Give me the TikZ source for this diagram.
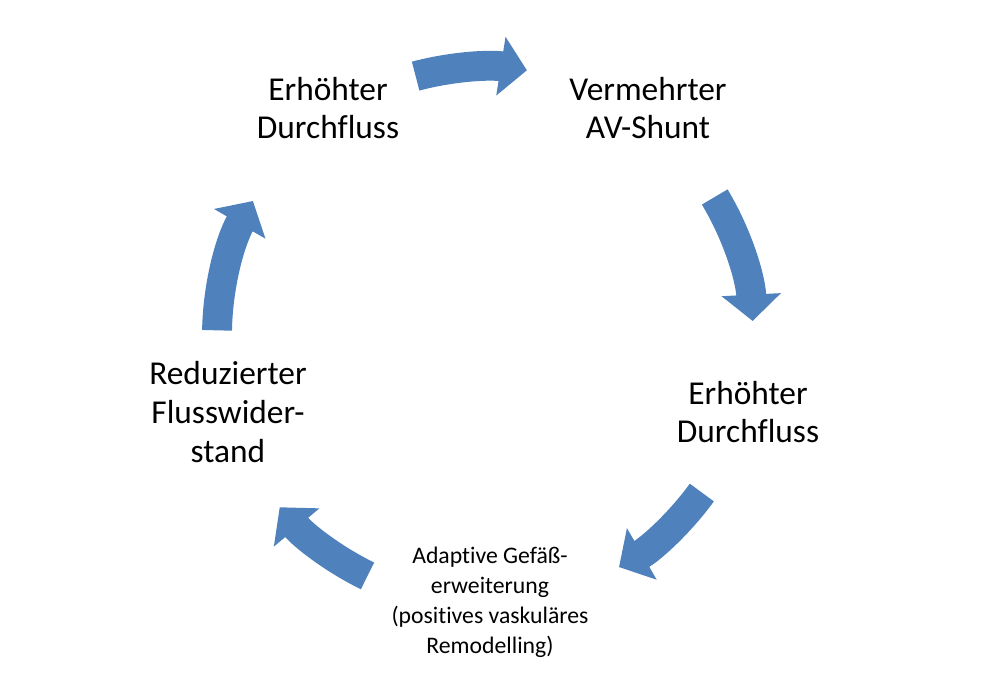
\documentclass[tikz,border=0pt]{standalone}
\usepackage{fontspec}
\setmainfont{Carlito}[Ligatures=NoCommon]
\usetikzlibrary{arrows.meta,calc}
\definecolor{myblue}{RGB}{79,129,189}

\begin{document}
\begin{tikzpicture}[x=0.02cm, y=0.02cm,
    bigtext/.style={align=center, font=\fontsize{19}{22}\selectfont},
    smalltext/.style={align=center, font=\fontsize{13.5}{17}\selectfont},
    cycle arrow/.style={draw=myblue, line width=17pt, -{Triangle[length=15pt, width=33pt]}}]
    % Page size
    \useasboundingbox (0, 0) rectangle (1000, -694);
    \coordinate (M) at (485, -335);

    % Texts around the cycle
    \node[bigtext] (flowA) at (328, -108) {Erhöhter\\Durchfluss};
    \node[bigtext] (shunt) at (648, -108) {Vermehrter\\AV-Shunt};
    \node[bigtext] (flowB) at (748, -412) {Erhöhter\\Durchfluss};
    \node[smalltext] (remod) at (490, -602) {Adaptive Gefäß-\\erweiterung\\(positives vaskuläres\\Remodelling)};
    \node[bigtext] (resist) at (228, -412) {Reduzierter\\Flusswider-\\stand};

    % Curved arrows
    \foreach \a/\b in {105/81, 31/3, -36/-60, -116/-140, 179/150}
        \draw[cycle arrow] ($(M)+(\a:268)$) arc[start angle=\a, end angle=\b, radius=268];
\end{tikzpicture}
\end{document}
